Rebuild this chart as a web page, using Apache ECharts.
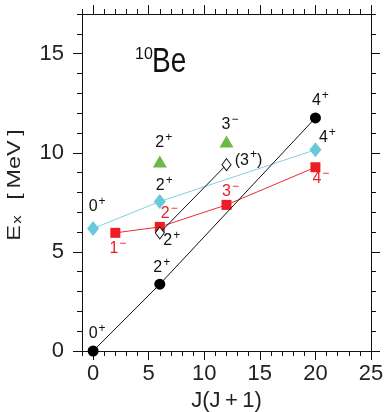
<!DOCTYPE html>
<html>
<head>
<meta charset="utf-8">
<script src="https://cdn.jsdelivr.net/npm/echarts@6.0.0/dist/echarts.min.js"></script>
<style>
  html, body { margin: 0; padding: 0; background: #fff; }
  #main { width: 384px; height: 412px; }
</style>
</head>
<body>
<div id="main"></div>
<script>
var FONT = '"Liberation Sans", Arial, sans-serif';

// ground-state band (filled circles)
var gsbJJ = [0, 6, 20];
var gsbE = [0, 3.37, 11.76];
var gsbSpin = ['0+', '2+', '4+'];

// cyan diamonds
var cyanJJ = [0, 6, 20];
var cyanE = [6.18, 7.54, 10.15];
var cyanSpin = ['0+', '2+', '4+'];

// negative parity band (red squares)
var redJJ = [2, 6, 12, 20];
var redE = [5.96, 6.26, 7.37, 9.27];
var redSpin = ['1-', '2-', '3-', '4-'];

// open diamonds
var openJJ = [6, 12];
var openE = [5.96, 9.4];
var openSpin = ['2+', '(3+)'];

// green triangles
var greenJJ = [6, 12];
var greenE = [9.56, 10.57];
var greenSpin = ['2+', '3-'];

var xTicks = [0, 5, 10, 15, 20, 25];
var yTicks = [0, 5, 10, 15];

// label offsets (px) from the marker, same order as the data above
var gsbOff = [[4, -19], [2, -18.5], [5, -19]];
var cyanOff = [[4, -23], [4.5, -17], [12, -13.5]];
var redOff = [[2.5, 14], [9.5, -15], [4, -15], [5.5, 10]];
var openOff = [[12, 6], [22, -6]];
var greenOff = [[4, -20], [3.5, -18]];

function range(a, b) {
  var r = [];
  for (var i = a; i <= b; i++) r.push(i);
  return r;
}

// "2+" -> rich string with raised sign
function spinText(s) {
  var out = '';
  for (var i = 0; i < s.length; i++) {
    var c = s[i];
    if (c === '+') out += '{s|+}';
    else if (c === '-') out += '{s|\u2212}';
    else out += '{n|' + c + '}';
  }
  return out;
}

function makeData(xs, ys, spins, offs, color) {
  return xs.map(function (x, i) {
    return {
      value: [x, ys[i]],
      label: {
        show: true,
        position: 'inside',
        offset: offs[i],
        formatter: spinText(spins[i]),
        rich: {
          n: { fontSize: 16, fontFamily: FONT, color: color, padding: [3, 0, 0, 0] },
          s: { fontSize: 12, fontFamily: FONT, color: color, verticalAlign: 'top', padding: [0, 0, 0, 1] }
        }
      }
    };
  });
}

var allX = range(-1, 25);
var allY = range(0, 17);

function xAx(pos, ticks, len, main) {
  return {
    type: 'value', position: pos, min: -1, max: 25,
    axisLine: { show: main, onZero: false, lineStyle: { color: '#111', width: 1 } },
    axisTick: { show: true, inside: false, length: len, customValues: ticks, lineStyle: { color: '#111', width: 1 } },
    axisLabel: main && pos === 'bottom' ? {
      show: true, customValues: xTicks, margin: 12,
      fontSize: 22, fontFamily: FONT, color: '#222'
    } : { show: false },
    splitLine: { show: false },
    name: main && pos === 'bottom' ? 'J(J\u2009+\u20091)' : '',
    nameLocation: 'middle', nameGap: 35,
    nameTextStyle: { fontSize: 22, fontFamily: FONT, color: '#222' }
  };
}

function yAx(pos, ticks, len, main) {
  return {
    type: 'value', position: pos, min: 0, max: 17,
    axisLine: { show: main, onZero: false, lineStyle: { color: '#111', width: 1 } },
    axisTick: { show: true, inside: false, length: len, customValues: ticks, lineStyle: { color: '#111', width: 1 } },
    axisLabel: main && pos === 'left' ? {
      show: true, customValues: yTicks, margin: 18,
      fontSize: 22, fontFamily: FONT, color: '#222'
    } : { show: false },
    splitLine: { show: false }
  };
}

var chart = echarts.init(document.getElementById('main'));
var option = {
  animation: false,
  grid: { left: 82, right: 13, top: 14, bottom: 61, containLabel: false, outerBoundsMode: 'none' },
  xAxis: [
    xAx('bottom', xTicks, 9, true),
    xAx('bottom', allX, 5, false),
    xAx('top', xTicks, 9, true),
    xAx('top', allX, 5, false)
  ],
  yAxis: [
    yAx('left', yTicks, 9, true),
    yAx('left', allY, 5, false),
    yAx('right', yTicks, 9, true),
    yAx('right', allY, 5, false)
  ],
  graphic: [
    { type: 'text', left: 135, top: 47, style: { text: '10', fontSize: 16, fontFamily: FONT, fill: '#111' } },
    { type: 'text', x: 152, y: 45, scaleX: 0.8, style: { text: 'Be', fontSize: 35, fontFamily: FONT, fill: '#111' } },
    // y axis title, rotated
    {
      type: 'text', x: 15, y: 185, rotation: Math.PI / 2, scaleX: 1.3,
      style: {
        text: '{e|E}{x|x}{e|[\u2009MeV\u2009]}',
        align: 'center', verticalAlign: 'middle',
        rich: {
          e: { fontSize: 18, fontFamily: FONT, fill: '#222' },
          x: { fontSize: 13, fontFamily: FONT, fill: '#222', verticalAlign: 'bottom', padding: [0, 12, 0, 1] }
        }
      }
    }
  ],
  series: [
    {
      type: 'line', clip: false, z: 3,
      data: makeData(cyanJJ, cyanE, cyanSpin, cyanOff, '#111'),
      symbol: 'diamond', symbolSize: [12, 15],
      lineStyle: { color: '#7fd0e0', width: 1 },
      itemStyle: { color: '#69c9da' }
    },
    {
      type: 'line', clip: false, z: 3,
      data: makeData(redJJ, redE, redSpin, redOff, '#ee1d25'),
      symbol: 'rect', symbolSize: 10,
      lineStyle: { color: '#ee2a30', width: 1 },
      itemStyle: { color: '#ee1d25' }
    },
    {
      type: 'line', clip: false, z: 4,
      data: makeData(openJJ, openE, openSpin, openOff, '#111'),
      symbol: 'diamond', symbolSize: [9, 12],
      lineStyle: { color: '#111', width: 1 },
      itemStyle: { color: '#fff', borderColor: '#111', borderWidth: 1 }
    },
    {
      type: 'line', clip: false, z: 4,
      data: makeData(gsbJJ, gsbE, gsbSpin, gsbOff, '#111'),
      symbol: 'circle', symbolSize: 11,
      lineStyle: { color: '#111', width: 1 },
      itemStyle: { color: '#000' }
    },
    {
      type: 'scatter', clip: false, z: 3,
      data: makeData(greenJJ, greenE, greenSpin, greenOff, '#111'),
      symbol: 'triangle', symbolSize: [14, 12],
      itemStyle: { color: '#6cb848', opacity: 1 },
      label: { opacity: 1 }
    }
  ]
};
chart.setOption(option);
</script>
</body>
</html>
